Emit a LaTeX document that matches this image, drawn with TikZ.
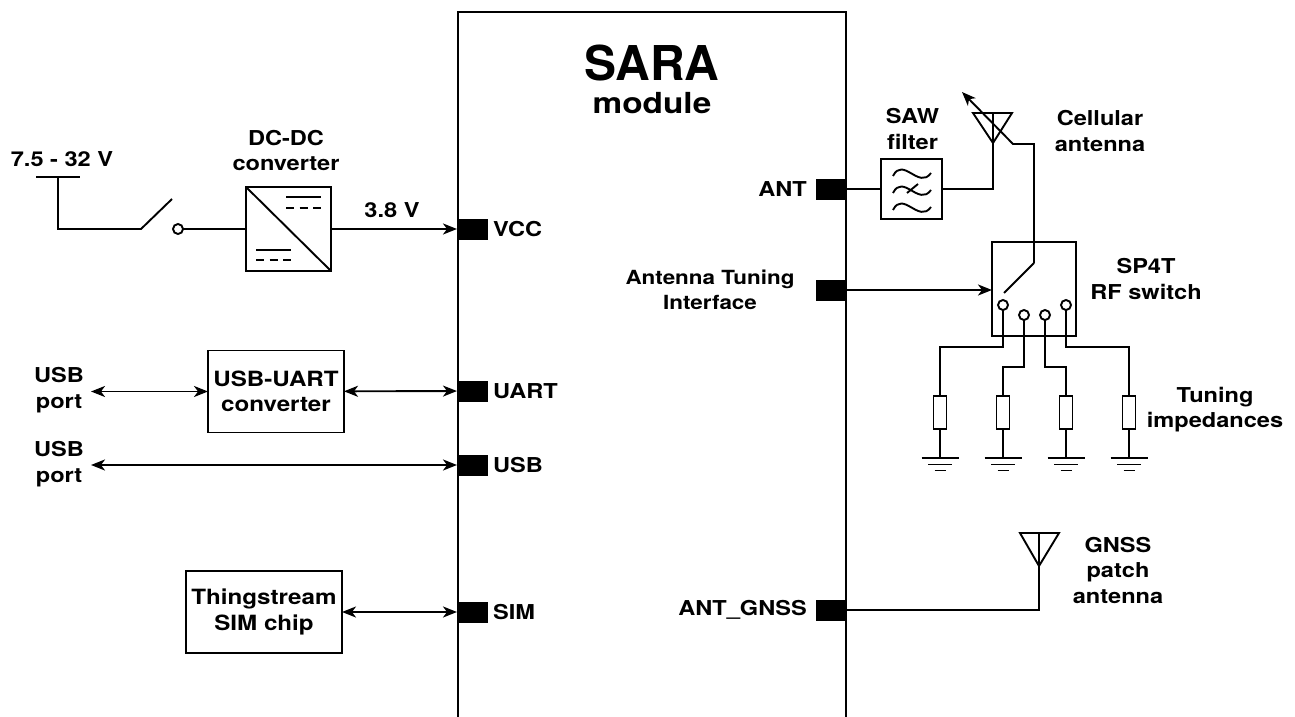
\documentclass[tikz,border=0pt]{standalone}
\usepackage{fontspec}
\setmainfont[FakeStretch=1.15]{TeX Gyre Heros}
\newfontfamily\titlefont{TeX Gyre Heros}
\usetikzlibrary{arrows.meta,positioning}
\tikzset{
  wire/.style={line width=1.9pt,line join=miter},
  conn/.style={wire,-{Stealth[length=14pt,width=11pt,inset=4pt]}},
  biconn/.style={wire,{Stealth[length=14pt,width=11pt,inset=4pt]}-{Stealth[length=14pt,width=11pt,inset=4pt]}},
  pinbox/.style={draw=none,fill=black,minimum width=31pt,minimum height=21pt,inner sep=0pt,outer sep=0pt},
  blockbox/.style={draw,line width=1.9pt,inner sep=0pt,outer sep=0pt,align=center,font=\fontsize{21}{25.5}\selectfont\bfseries},
  lbl/.style={align=center,inner sep=0pt,font=\fontsize{20.5}{25.5}\selectfont\bfseries},
  contact/.style={circle,draw,line width=1.9pt,fill=white,minimum size=10pt,inner sep=0pt,outer sep=0pt},
  res/.style={draw,line width=1.9pt,minimum width=13pt,minimum height=33pt,inner sep=0pt,outer sep=0pt}
}
\begin{document}
\begin{tikzpicture}[x=1pt,y=-1pt]
\useasboundingbox (0,0) rectangle (1295,717);
% module outline, open at the bottom
\draw[wire] (458,717) -- (458,12) -- (846,12) -- (846,717);
\node[lbl,font=\fontsize{48}{50}\selectfont\titlefont\bfseries] (sara) at (652,63.5) {SARA};
\node[lbl,font=\fontsize{29}{32}\selectfont\bfseries] (module) at (652,103) {module};
% pins
\node[pinbox] (vcc) at (472.5,229) {};
\node[pinbox] (uart) at (472.5,391) {};
\node[pinbox] (usb) at (472.5,465) {};
\node[pinbox] (sim) at (472.5,612) {};
\node[pinbox] (ant) at (831.5,189) {};
\node[pinbox] (ati) at (831.5,290) {};
\node[pinbox] (gnss) at (831.5,610) {};
\node[lbl,right=5pt of vcc] (vcclbl) {VCC};
\node[lbl,right=5pt of uart] (uartlbl) {UART};
\node[lbl,right=5pt of usb] (usblbl) {USB};
\node[lbl,right=5pt of sim] (simlbl) {SIM};
\node[lbl,left=9pt of ant] (antlbl) {ANT};
\node[lbl,font=\fontsize{19.5}{25.5}\selectfont\bfseries] (atilbl) at (710,290) {Antenna Tuning\\Interface};
\node[lbl,left=9pt of gnss] (gnsslbl) {ANT\_GNSS};
% supply path
\node[lbl] (vin) at (62,159) {7.5 - 32 V};
\coordinate (rail) at (58,177);
\coordinate (hinge) at (141,229);
\coordinate (tip) at (172,199);
\draw[wire] (36,177) -- (80,177);
\node[contact] (swout) at (178,229) {};
\draw[wire] (rail) |- (hinge) -- (tip);
\node[blockbox,minimum width=85pt,minimum height=84pt] (dcdc) at (288.5,229) {};
\draw[wire] (dcdc.north west) -- (dcdc.south east);
\draw[wire] (286,197) -- (321,197);
\draw[wire,dash pattern=on 8pt off 5.5pt] (286,208) -- (321,208);
\draw[wire] (256,250) -- (291,250);
\draw[wire,dash pattern=on 8pt off 5.5pt] (256,260) -- (291,260);
\node[lbl] (dcdclbl) at (286,150.5) {DC-DC\\converter};
\draw[wire] (swout) -- (dcdc);
\draw[conn] (dcdc) -- (vcc);
\node[lbl] (vout) at (392,210) {3.8 V};
% USB, UART, SIM
\node[lbl] (port1) at (59,390) {USB\\port};
\node[lbl] (port2) at (59,464) {USB\\port};
\node[blockbox,minimum width=136pt,minimum height=82pt] (conv) at (276,391.5) {USB-UART\\converter};
\node[blockbox,minimum width=156pt,minimum height=82pt] (chip) at (264,612) {Thingstream\\SIM chip};
\coordinate (usbend1) at (91,391.5);
\coordinate (usbend2) at (91,465);
\draw[biconn] (usbend1) -- (conv);
\draw[biconn] (conv) -- (uart);
\draw[biconn] (usbend2) -- (usb);
\draw[biconn] (chip) -- (sim);
% SAW filter and cellular antenna
\node[blockbox,minimum width=61pt,minimum height=60pt] (saw) at (911.5,189) {};
\foreach \yy in {173,190,207}
  \draw[wire] (893,\yy+3) .. controls (903,\yy-17) and (919,\yy+17) .. (931,\yy);
\draw[wire] (907,193) -- (918,184);
\node[lbl] (sawlbl) at (912.5,129) {SAW\\filter};
\coordinate (cellfeed) at (993,143);
\draw[wire] (973,113) -- (1012,113) -- (cellfeed) -- cycle;
\draw[wire] (993,113) -- (cellfeed);
\draw[wire] (ant) -- (saw);
\draw[wire] (saw) -| (cellfeed);
\node[lbl] (celllbl) at (1100,131) {Cellular\\antenna};
\coordinate (tunetip) at (962,92);
\coordinate (tunebend) at (1013,144);
\draw[conn] (1034,263) -- (1034,144) -- (tunebend) -- (tunetip);
% RF switch
\node[blockbox,minimum width=84pt,minimum height=94pt] (rfsw) at (1034,289) {};
\draw[wire] (1034,263) -- (1004,293);
\node[lbl] (rfswlbl) at (1146,279) {SP4T\\RF switch};
\draw[conn] (ati) -- (rfsw.west |- ati);
\node[contact] (c1) at (1003,305) {};
\node[contact] (c2) at (1024,315) {};
\node[contact] (c3) at (1045,315) {};
\node[contact] (c4) at (1066,305) {};
\foreach \nn/\xx/\yy in {1/940/347,2/1003/367,3/1066/367,4/1129/347} {
  \node[res] (r\nn) at (\xx,412.5) {};
  \draw[wire] (c\nn.south) |- (\xx,\yy) -- (r\nn.north);
  \coordinate (g\nn) at (\xx,458);
  \draw[wire] (r\nn.south) -- (g\nn);
  \draw[wire] (\xx-18.5,458) -- (\xx+18.5,458);
  \draw[wire] (\xx-12,464.5) -- (\xx+12,464.5);
  \draw[wire] (\xx-5.5,470.5) -- (\xx+5.5,470.5);
}
\node[lbl] (tunelbl) at (1215,409.5) {Tuning\\impedances};
% GNSS antenna
\coordinate (gnssfeed) at (1039,566);
\draw[wire] (1020,533) -- (1059,533) -- (gnssfeed) -- cycle;
\draw[wire] (1039,533) -- (gnssfeed);
\draw[wire] (gnss) -| (gnssfeed);
\node[lbl] (gnssant) at (1118,570) {GNSS\\patch\\antenna};
\end{tikzpicture}
\end{document}
